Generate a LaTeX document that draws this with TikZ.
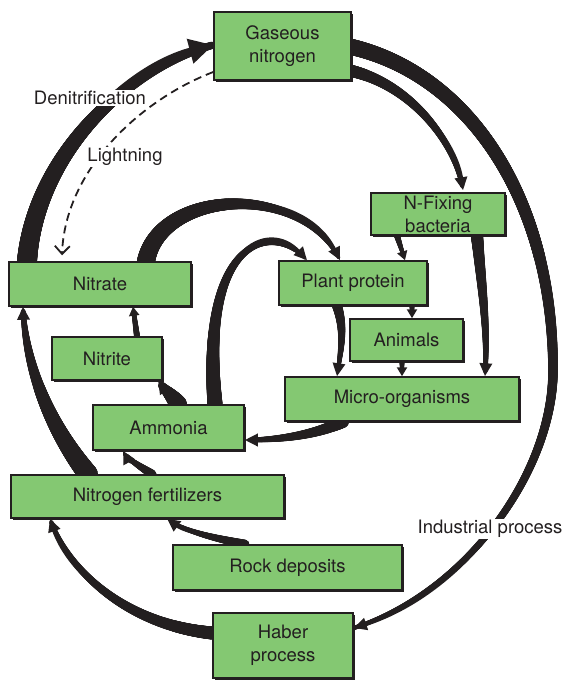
\documentclass[tikz,border=0pt]{standalone}
\usepackage{fontspec}
\setmainfont{TeX Gyre Heros}
\usetikzlibrary{arrows.meta, decorations.markings, shadows}
\definecolor{leaf}{RGB}{132,200,114}
\definecolor{ink}{RGB}{35,31,32}
\pgfdeclarelayer{back}
\pgfsetlayers{back,main}
\tikzset{
  box/.style={draw=ink, line width=1.5pt, fill=leaf, text=ink, inner sep=0pt, align=center,
    font=\fontsize{18.5}{23}\selectfont,
    drop shadow={shadow xshift=2.2pt, shadow yshift=-2.2pt, opacity=1, fill=ink}},
  lbl/.style={fill=white, text=ink, inner sep=1.5pt, font=\fontsize{18.5}{22}\selectfont},
  flow/.style 2 args={draw=ink, line width=#2pt, -{Triangle[length=13pt, width=12pt]},
    postaction={decorate, decoration={markings,
      mark=between positions 0 and -6pt step 0.4pt with {
        \pgfmathsetmacro\fw{#1+(#2-#1)*\pgfkeysvalueof{/pgf/decoration/mark info/distance from start}/\pgfdecoratedpathlength}
        \fill[ink] circle[radius=0.5*\fw pt];}}}},
  bighead/.style={-{Triangle[length=24pt, width=24pt]}},
  smallhead/.style={-{Triangle[length=9pt, width=10pt]}},
  spark/.style={draw=ink, line width=1.8pt, dash pattern=on 8pt off 5pt,
    -{Straight Barb[length=8pt, width=15pt]}},
}
\begin{document}
\begin{tikzpicture}[x=1pt, y=-1pt]
  \useasboundingbox (0,0) rectangle (563,682);
  \node[box, minimum width=137pt, minimum height=68pt] (gas) at (282.5,46) {Gaseous\\nitrogen};
  \node[box, minimum width=134pt, minimum height=42pt] (nfix) at (438,214) {N-Fixing\\bacteria};
  \node[box, minimum width=182pt, minimum height=44pt] (nitrate) at (100,284) {Nitrate};
  \node[box, minimum width=148pt, minimum height=44pt] (plant) at (353,283) {Plant protein};
  \node[box, minimum width=113pt, minimum height=42pt] (animals) at (406.5,340) {Animals};
  \node[box, minimum width=110pt, minimum height=43pt] (nitrite) at (107,358.5) {Nitrite};
  \node[box, minimum width=234pt, minimum height=44pt] (micro) at (402,399) {Micro-organisms};
  \node[box, minimum width=151pt, minimum height=45pt] (ammonia) at (168.5,427.5) {Ammonia};
  \node[box, minimum width=273pt, minimum height=43pt] (fert) at (147.5,496.5) {Nitrogen fertilizers};
  \node[box, minimum width=229pt, minimum height=45pt] (rock) at (287.5,567.5) {Rock deposits};
  \node[box, minimum width=140pt, minimum height=65pt] (haber) at (283,645.5) {Haber\\process};
  \node[lbl] (denit) at (90,98) {Denitrification};
  \node[lbl] (light) at (125,157) {Lightning};
  \node[lbl] (indus) at (490,529) {Industrial process};
  \begin{pgfonlayer}{back}
    \draw[flow={20}{7}, bighead] ([xshift=-73pt]nitrate.north) .. controls (35,160) and (120,70) .. ([yshift=1pt]gas.west);
    \draw[spark] ([yshift=-26pt]gas.west) .. controls (140,100) and (65,170) .. ([xshift=-38pt, yshift=6pt]nitrate.north);
    \draw[flow={16}{4}] ([yshift=-1pt]gas.east) .. controls (470,75) and (553,200) .. (553,370)
      .. controls (553,470) and (470,590) .. ([yshift=17.5pt]haber.east);
    \draw[flow={12}{4}] ([yshift=-25pt]gas.east) .. controls (410,85) and (455,140) .. ([xshift=25pt, yshift=2pt]nfix.north);
    \draw[flow={6}{3}, smallhead] ([xshift=-41pt]nfix.south) -- ([xshift=52pt]plant.north);
    \draw[flow={12}{4}] ([xshift=39pt]nfix.south) .. controls (482,290) and (488,330) .. ([xshift=83pt]micro.north);
    \draw[flow={5}{3}, smallhead] ([xshift=59pt]plant.south) -- ([xshift=5.5pt]animals.north);
    \draw[flow={5}{3}, smallhead] ([xshift=-4.5pt]animals.south) -- (micro.north);
    \draw[flow={10}{3}] ([xshift=-16pt]plant.south) .. controls (345,330) and (341,350) .. ([xshift=-65pt]micro.north);
    \draw[flow={12}{4}] ([xshift=-59pt]micro.south) .. controls (315,435) and (280,440) .. ([yshift=-12.5pt]ammonia.east);
    \draw[flow={18}{5}] ([xshift=9.5pt]ammonia.north) .. controls (172,395) and (163,388) .. ([xshift=51pt]nitrite.south);
    \draw[flow={6}{4}, smallhead] ([xshift=30pt]nitrite.north) -- ([xshift=33pt]nitrate.south);
    \draw[flow={15}{3}] ([xshift=46.5pt]ammonia.north) .. controls (200,240) and (270,220) .. ([xshift=-46pt]plant.north);
    \draw[flow={18}{3}] ([xshift=46pt]nitrate.north) .. controls (160,190) and (300,180) .. ([xshift=-13pt]plant.north);
    \draw[flow={9}{3}] ([xshift=4.5pt]fert.north) .. controls (140,466) and (128,460) .. ([xshift=-45.5pt]ammonia.south);
    \draw[flow={20}{4}] ([xshift=-59.5pt]fert.north) .. controls (45,420) and (25,360) .. ([xshift=-77pt]nitrate.south);
    \draw[flow={13}{4}] ([yshift=12.5pt]haber.west) .. controls (130,625) and (70,575) .. ([xshift=-97.5pt]fert.south);
    \draw[flow={9}{3}] ([xshift=-42.5pt]rock.north) .. controls (215,538) and (185,532) .. ([xshift=19.5pt]fert.south);
  \end{pgfonlayer}
\end{tikzpicture}
\end{document}
